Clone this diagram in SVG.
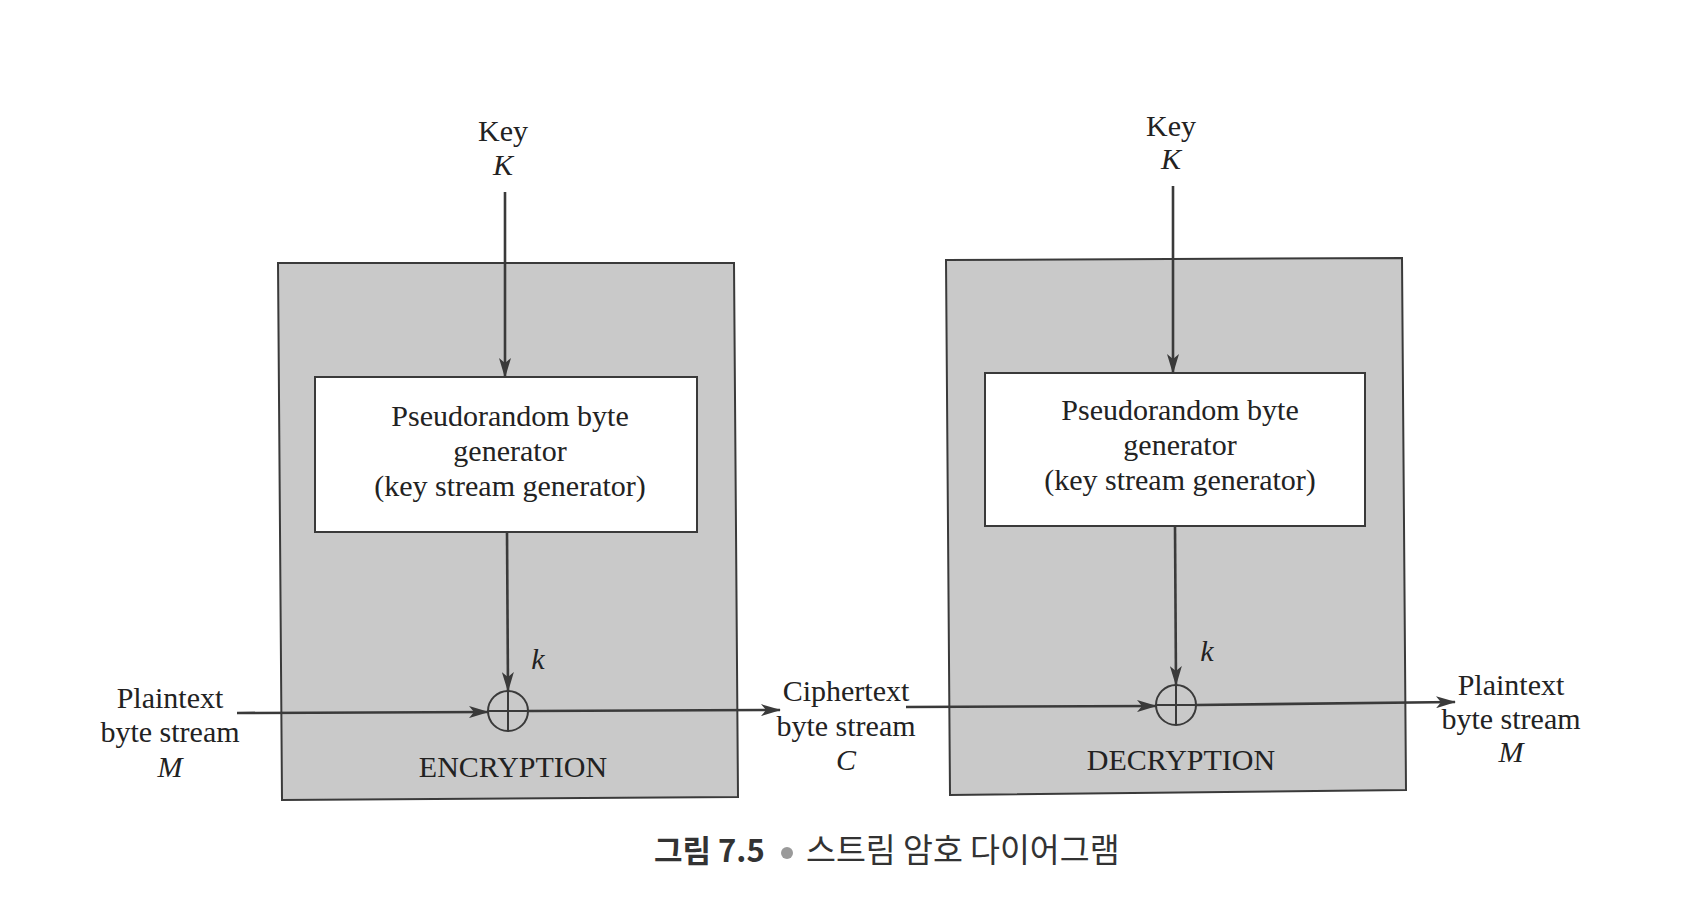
<svg xmlns="http://www.w3.org/2000/svg" width="1689" height="917" viewBox="0 0 1689 917">
<defs>
<marker id="ah" viewBox="0 0 20 12" refX="19" refY="6" markerWidth="20" markerHeight="12" markerUnits="userSpaceOnUse" orient="auto">
<path d="M0,0 L20,6 L0,12 L5,6 Z" fill="#3a3a3a"/>
</marker>
</defs>
<style>
.outer{fill:#c9c9c9;stroke:#3a3a3a;stroke-width:2}
.inner{fill:#ffffff;stroke:#3a3a3a;stroke-width:2}
.xor{fill:none;stroke:#3a3a3a;stroke-width:2}
.ln{fill:none;stroke:#3a3a3a;stroke-width:2.6;marker-end:url(#ah)}
text{font-family:"Liberation Serif","Times New Roman",serif;font-size:30px;fill:#222;text-anchor:middle}
.it{font-style:italic}
.cap{font-family:"Noto Sans CJK KR","Noto Sans",sans-serif;font-size:32.5px;fill:#333}
</style>
<rect width="1689" height="917" fill="#ffffff"/>

<g id="enc-box">
<polygon class="outer" points="278,263 734,263 738,797 282,800"/>
<text x="513" y="777">ENCRYPTION</text>
</g>
<g id="enc-gen">
<rect class="inner" x="315" y="377" width="382" height="155"/>
<text x="510" y="426">Pseudorandom byte</text>
<text x="510" y="461">generator</text>
<text x="510" y="496">(key stream generator)</text>
</g>
<g id="enc-xor">
<circle class="xor" cx="508" cy="711" r="20"/>
<line class="xor" x1="488" y1="711" x2="528" y2="711"/>
<line class="xor" x1="508" y1="691" x2="508" y2="731"/>
</g>
<g id="enc-key">
<text x="503" y="141">Key</text>
<text class="it" x="503" y="175">K</text>
</g>

<g id="dec-box">
<polygon class="outer" points="946,260 1402,258 1406,790 950,795"/>
<text x="1181" y="770">DECRYPTION</text>
</g>
<g id="dec-gen">
<rect class="inner" x="985" y="373" width="380" height="153"/>
<text x="1180" y="420">Pseudorandom byte</text>
<text x="1180" y="455">generator</text>
<text x="1180" y="490">(key stream generator)</text>
</g>
<g id="dec-xor">
<circle class="xor" cx="1176" cy="705" r="20"/>
<line class="xor" x1="1156" y1="705" x2="1196" y2="705"/>
<line class="xor" x1="1176" y1="685" x2="1176" y2="725"/>
</g>
<g id="dec-key">
<text x="1171" y="136">Key</text>
<text class="it" x="1171" y="169">K</text>
</g>

<g id="plain-in">
<text x="170" y="708">Plaintext</text>
<text x="170" y="742">byte stream</text>
<text class="it" x="170" y="777">M</text>
</g>
<g id="cipher">
<text x="846" y="701">Ciphertext</text>
<text x="846" y="736">byte stream</text>
<text class="it" x="846" y="770">C</text>
</g>
<g id="plain-out">
<text x="1511" y="695">Plaintext</text>
<text x="1511" y="729">byte stream</text>
<text class="it" x="1511" y="762">M</text>
</g>

<g id="connectors">
<line class="ln" x1="505" y1="192" x2="505" y2="377"/>
<line class="ln" x1="507" y1="532" x2="508" y2="691"/>
<text class="it" x="538" y="669">k</text>
<line class="ln" x1="237" y1="713" x2="488" y2="712"/>
<line class="ln" x1="528" y1="711" x2="780" y2="710"/>
<line class="ln" x1="1173" y1="186" x2="1173" y2="373"/>
<line class="ln" x1="1175" y1="526" x2="1176" y2="685"/>
<text class="it" x="1207" y="661">k</text>
<line class="ln" x1="906" y1="707" x2="1156" y2="706"/>
<line class="ln" x1="1196" y1="705" x2="1455" y2="702"/>
</g>

<g id="caption">
<text class="cap" x="654" y="862" style="text-anchor:start;font-weight:bold;font-size:31px">그림 7.5</text>
<circle cx="787" cy="853" r="6" fill="#9a9a9a"/>
<text class="cap" x="806" y="862" style="text-anchor:start">스트림 암호 다이어그램</text>
</g>
</svg>
